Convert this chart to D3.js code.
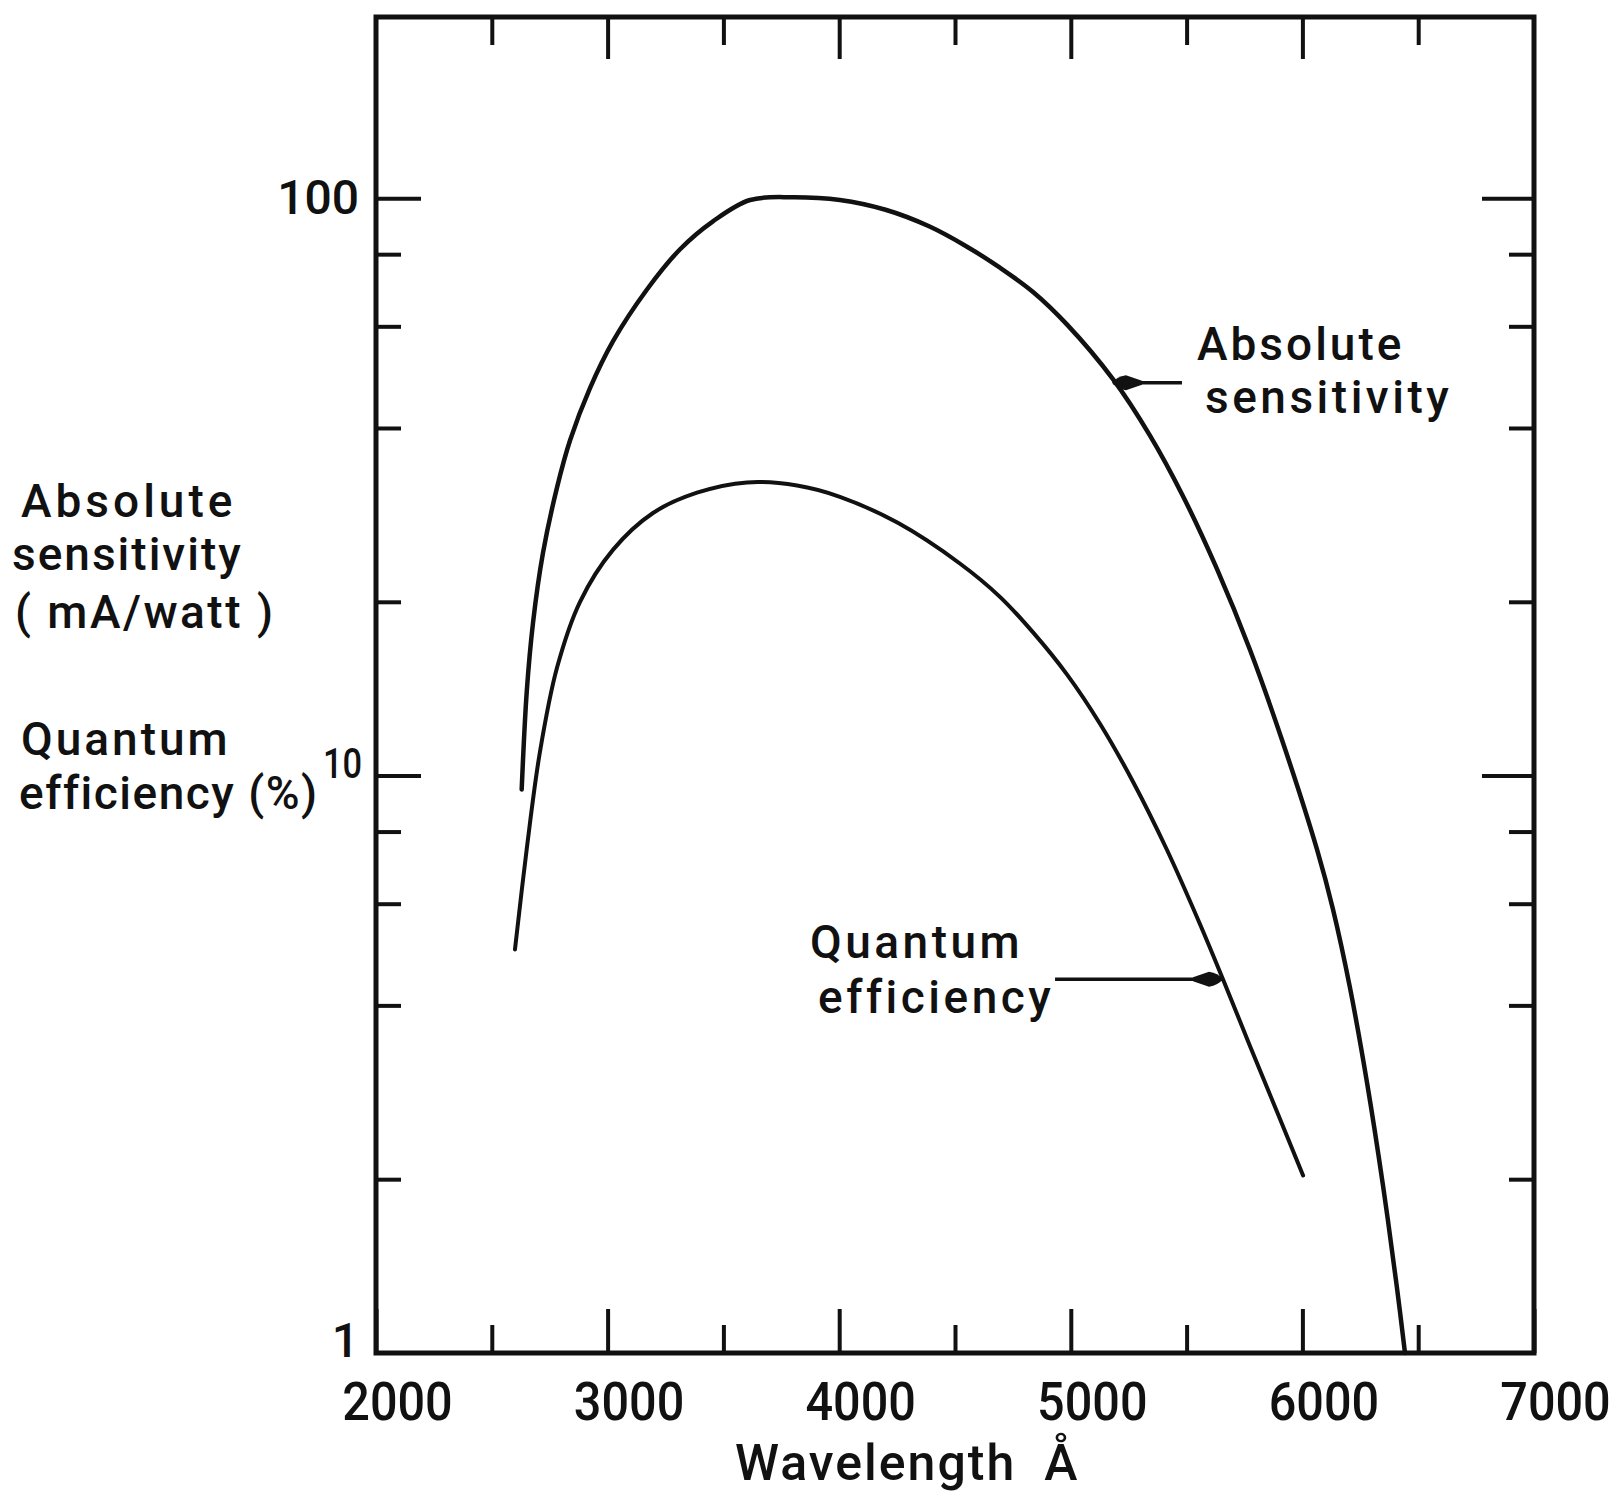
<!DOCTYPE html>
<html>
<head>
<meta charset="utf-8">
<script src="https://cdn.jsdelivr.net/npm/d3@7"></script>
<style>
  body { margin: 0; background: #fff; }
  svg text { font-family: Roboto, "DejaVu Sans", sans-serif; font-weight: 500; fill: #111; }
  .tick line { stroke: #111; stroke-width: 4; }
</style>
</head>
<body>
<div id="chart"></div>
<script>
// values (wavelength in Angstrom)
const absWavelength = [2629, 2651, 2678, 2721, 2782, 2838, 2924, 3023, 3170, 3313, 3455, 3615, 3800, 4003, 4200, 4388, 4550, 4694, 4837, 4984, 5182, 5342, 5484, 5631, 5774, 5916, 6063, 6132, 6206, 6279, 6348, 6408, 6443];
const absSensitivity = [9.46, 14.0, 18.4, 24.3, 31.6, 38.1, 46.9, 56.5, 69.5, 81.6, 91.2, 99.3, 100.4, 99.3, 95.5, 89.4, 82.5, 75.8, 68.8, 60.4, 48.6, 38.8, 30.5, 22.8, 16.5, 11.4, 7.45, 5.87, 4.28, 2.94, 1.95, 1.30, 1.0];

const qeWavelength = [2600, 2652, 2708, 2782, 2881, 3023, 3196, 3386, 3602, 3818, 4003, 4253, 4521, 4694, 4837, 4984, 5126, 5268, 5415, 5557, 5657, 5774, 5890, 6003];
const qeEfficiency = [5.0, 7.53, 11.0, 15.4, 20.0, 24.6, 28.5, 30.9, 32.2, 31.8, 30.4, 27.4, 23.3, 20.4, 17.7, 14.96, 12.3, 9.77, 7.44, 5.54, 4.44, 3.40, 2.62, 2.03];

const xMajorTicks = [2000, 3000, 4000, 5000, 6000, 7000];
const xMinorTicks = [2500, 3500, 4500, 5500, 6500];
const yMajorTicks = [1, 10, 100];
const yMinorTicks = [2, 4, 6, 8, 20, 40, 60, 80];

// arrows: [tail wavelength, tip wavelength, value]
const absArrow = [5480, 5182, 47.9];
const qeArrow = [4932, 5653, 4.44];

const width = 1618, height = 1493;
const margin = { t: 17, l: 376, r: 84, b: 140 };

const svg = d3.select("#chart").append("svg")
  .attr("width", width)
  .attr("height", height)
  .attr("viewBox", "0 0 " + width + " " + height);

const x = d3.scaleLinear()
  .domain([2000, 7000])
  .range([margin.l, width - margin.r]);

const y = d3.scaleLog()
  .domain([1, 206])
  .range([height - margin.b, margin.t]);

const bottom = height - margin.b, right = width - margin.r;

// bottom axis with labels, ticks pointing inward
svg.append("g")
  .attr("transform", "translate(0," + bottom + ")")
  .call(d3.axisBottom(x).tickValues(xMajorTicks).tickSize(-44).tickPadding(29).tickFormat(d3.format("d")))
  .call(g => g.select(".domain").remove())
  .call(g => g.selectAll("text")
    .attr("font-size", 54)
    .attr("transform", "translate(21,0) scale(0.9,1)"));

svg.append("g")
  .attr("transform", "translate(0," + bottom + ")")
  .call(d3.axisBottom(x).tickValues(xMinorTicks).tickSize(-28).tickFormat(""))
  .call(g => g.select(".domain").remove());

// top axis, ticks pointing down
svg.append("g")
  .attr("transform", "translate(0," + margin.t + ")")
  .call(d3.axisTop(x).tickValues(xMajorTicks.slice(1, -1)).tickSize(-42).tickFormat(""))
  .call(g => g.select(".domain").remove());
svg.append("g")
  .attr("transform", "translate(0," + margin.t + ")")
  .call(d3.axisTop(x).tickValues(xMinorTicks).tickSize(-28).tickFormat(""))
  .call(g => g.select(".domain").remove());

// left axis
svg.append("g")
  .attr("transform", "translate(" + margin.l + ",0)")
  .call(d3.axisLeft(y).tickValues(yMajorTicks).tickSize(-45).tickPadding(17).tickFormat(d3.format("d")))
  .call(g => g.select(".domain").remove())
  .call(g => g.selectAll(".tick").filter(d => d === 1).select("line").remove())
  .call(g => g.selectAll("text")
    .attr("font-size", d => d === 10 ? 42 : 48)
    .attr("transform", d => d === 100 ? null : (d === 10 ? "translate(0,-12) scale(0.82,1)" : "translate(0,-12)")));
svg.append("g")
  .attr("transform", "translate(" + margin.l + ",0)")
  .call(d3.axisLeft(y).tickValues(yMinorTicks).tickSize(-25).tickFormat(""))
  .call(g => g.select(".domain").remove());

// right axis
svg.append("g")
  .attr("transform", "translate(" + right + ",0)")
  .call(d3.axisRight(y).tickValues(yMajorTicks.slice(1)).tickSize(-52).tickFormat(""))
  .call(g => g.select(".domain").remove());
svg.append("g")
  .attr("transform", "translate(" + right + ",0)")
  .call(d3.axisRight(y).tickValues(yMinorTicks).tickSize(-25).tickFormat(""))
  .call(g => g.select(".domain").remove());

// frame
svg.append("rect")
  .attr("x", margin.l)
  .attr("y", margin.t)
  .attr("width", right - margin.l)
  .attr("height", bottom - margin.t)
  .attr("fill", "none")
  .attr("stroke", "#111")
  .attr("stroke-width", 5);

// curves
const line = d3.line()
  .x(d => x(d[0]))
  .y(d => y(d[1]))
  .curve(d3.curveCatmullRom.alpha(0.5));

svg.append("path")
  .datum(d3.zip(absWavelength, absSensitivity))
  .attr("d", line)
  .attr("fill", "none")
  .attr("stroke", "#111")
  .attr("stroke-width", 4.5)
  .attr("stroke-linecap", "round");

svg.append("path")
  .datum(d3.zip(qeWavelength, qeEfficiency))
  .attr("d", line)
  .attr("fill", "none")
  .attr("stroke", "#111")
  .attr("stroke-width", 4)
  .attr("stroke-linecap", "round");

// arrows
svg.append("defs").append("marker")
  .attr("id", "head")
  .attr("viewBox", "0 -8 30 16")
  .attr("refX", 29)
  .attr("refY", 0)
  .attr("markerUnits", "userSpaceOnUse")
  .attr("markerWidth", 30)
  .attr("markerHeight", 16)
  .attr("orient", "auto")
  .append("path")
  .attr("d", "M0,-2 L16,-7.5 Q25,-6 30,0 Q25,6 16,7.5 L0,2 Z")
  .attr("fill", "#111");

[absArrow, qeArrow].forEach(a => {
  svg.append("line")
    .attr("x1", x(a[0])).attr("y1", y(a[2]))
    .attr("x2", x(a[1])).attr("y2", y(a[2]))
    .attr("stroke", "#111")
    .attr("stroke-width", 3.5)
    .attr("marker-end", "url(#head)");
});

// text
function label(txt, px, py, size, spacing) {
  svg.append("text")
    .attr("x", px).attr("y", py)
    .attr("font-size", size)
    .attr("letter-spacing", spacing || 0)
    .text(txt);
}

label("Absolute", 21, 517, 46, 4);
label("sensitivity", 12, 570, 46, 2);
label("( mA/watt )", 15, 628, 46, 2.5);
label("Quantum", 21, 755, 46, 3);
label("efficiency (%)", 19, 809, 46, 1.5);

label("Absolute", 1197, 360, 46, 3);
label("sensitivity", 1205, 413, 46, 3.5);
label("Quantum", 810, 958, 46, 3.5);
label("efficiency", 818, 1013, 46, 3.5);

const xTitle = svg.append("text")
  .attr("x", 735).attr("y", 1480)
  .attr("font-size", 50)
  .attr("letter-spacing", 2);
xTitle.append("tspan").text("Wavelength");
xTitle.append("tspan").attr("dx", 28).text("Å");
</script>
</body>
</html>
